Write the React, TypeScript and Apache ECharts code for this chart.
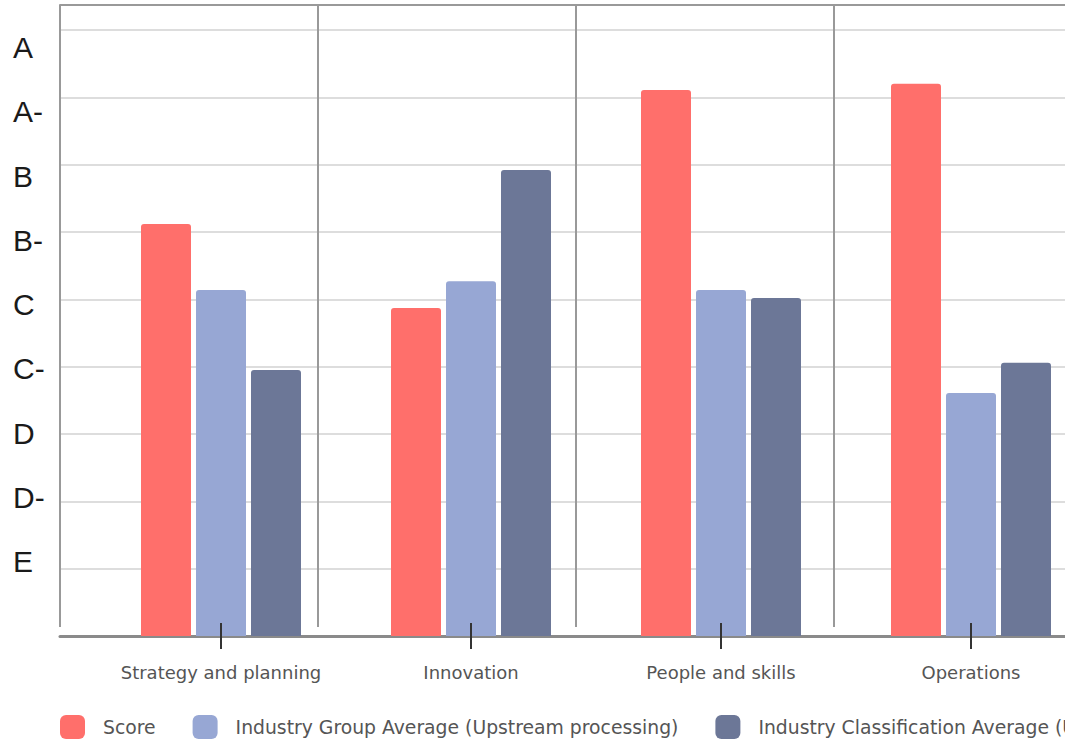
import React, { useEffect, useRef } from "react";
import * as echarts from "echarts";

const categories = ["Strategy and planning", "Innovation", "People and skills", "Operations"];
const gradeLabels = ["E", "D-", "D", "C-", "C", "B-", "B", "A-", "A"];
const seriesNames = [
  "Score",
  "Industry Group Average (Upstream processing)",
  "Industry Classification Average (Upstream processing)",
];
const scoreValues = [6.12, 4.87, 8.11, 8.2];
const groupAvgValues = [5.14, 5.27, 5.14, 3.61];
const classAvgValues = [3.95, 6.92, 5.02, 4.06];
const colors = ["#FF6F6B", "#97A7D4", "#6C7797"];

export default function App() {
  const ref = useRef<HTMLDivElement>(null);
  useEffect(() => {
    if (!ref.current) return;
    const chart = echarts.init(ref.current, undefined, { renderer: "svg" });
    const font = "DejaVu Sans";
    const hidden = {
      axisLine: { show: false },
      axisTick: { show: false },
      axisLabel: { show: false },
      splitLine: { show: false },
    };
    chart.setOption({
      animation: false,
      backgroundColor: "#ffffff",
      grid: [
        { left: 96, top: 30, width: 1000, height: 606 },
        { left: 60, top: 5, width: 1032, height: 622 },
        { left: 60, top: 30, width: 1130, height: 606 },
        { left: 60, top: 15.3, width: 10, height: 578.7 },
      ],
      xAxis: [
        {
          type: "category",
          gridIndex: 0,
          data: categories,
          z: 5,
          offset: -13,
          axisLine: { show: false, onZero: false },
          axisTick: { show: true, alignWithLabel: true, length: 26, lineStyle: { color: "#333", width: 2 } },
          axisLabel: { interval: 0, margin: 40, fontSize: 18, fontFamily: font, color: "#555" },
          splitLine: { show: false },
        },
        {
          type: "value",
          gridIndex: 1,
          position: "top",
          min: 0,
          max: 4,
          interval: 1,
          axisLine: { show: true, onZero: false, lineStyle: { color: "#999", width: 2 } },
          axisTick: { show: false },
          axisLabel: { show: false },
          splitLine: { show: true, lineStyle: { color: "#999", width: 2 } },
        },
        {
          type: "value",
          gridIndex: 2,
          min: 0,
          max: 1,
          axisLine: { show: true, onZero: false, lineStyle: { color: "#8a8a8a", width: 3 } },
          axisTick: { show: false },
          axisLabel: { show: false },
          splitLine: { show: false },
        },
        { type: "value", gridIndex: 3, min: 0, max: 1, ...hidden },
      ],
      yAxis: [
        { type: "value", gridIndex: 0, min: 0, max: 9, interval: 1, ...hidden },
        { type: "value", gridIndex: 1, min: 0, max: 1, ...hidden },
        {
          type: "value",
          gridIndex: 2,
          min: 0,
          max: 9,
          interval: 1,
          axisLine: { show: false },
          axisTick: { show: false },
          axisLabel: { show: false },
          splitLine: { show: true, showMinLine: false, lineStyle: { color: "#dddddd", width: 2 } },
        },
        {
          type: "category",
          gridIndex: 3,
          data: gradeLabels,
          axisLine: { show: false },
          axisTick: { show: false },
          splitLine: { show: false },
          axisLabel: {
            align: "left",
            margin: 47,
            fontSize: 30,
            fontFamily: "Liberation Sans",
            color: "#1a1a1a",
          },
        },
      ],
      legend: {
        left: 60,
        top: 715,
        padding: 0,
        width: 1600,
        itemWidth: 25,
        itemHeight: 24,
        itemGap: 37,
        icon: "roundRect",
        data: seriesNames,
        textStyle: { fontSize: 18.8, fontFamily: font, color: "#555", padding: [0, 0, 0, 13] },
      },
      series: [
        {
          name: seriesNames[0],
          type: "bar",
          xAxisIndex: 0,
          yAxisIndex: 0,
          data: scoreValues,
          barWidth: 50,
          barGap: "10%",
          itemStyle: { color: colors[0], borderRadius: [3, 3, 0, 0] },
        },
        {
          name: seriesNames[1],
          type: "bar",
          xAxisIndex: 0,
          yAxisIndex: 0,
          data: groupAvgValues,
          barWidth: 50,
          barGap: "10%",
          itemStyle: { color: colors[1], borderRadius: [3, 3, 0, 0] },
        },
        {
          name: seriesNames[2],
          type: "bar",
          xAxisIndex: 0,
          yAxisIndex: 0,
          data: classAvgValues,
          barWidth: 50,
          barGap: "10%",
          itemStyle: { color: colors[2], borderRadius: [3, 3, 0, 0] },
        },
      ],
    });
    return () => chart.dispose();
  }, []);
  return (
    <div
      style={{
        position: "absolute",
        left: 0,
        top: 0,
        width: 1065,
        height: 741,
        overflow: "hidden",
        background: "#fff",
      }}
    >
      <div ref={ref} style={{ width: 1200, height: 741 }} />
    </div>
  );
}
